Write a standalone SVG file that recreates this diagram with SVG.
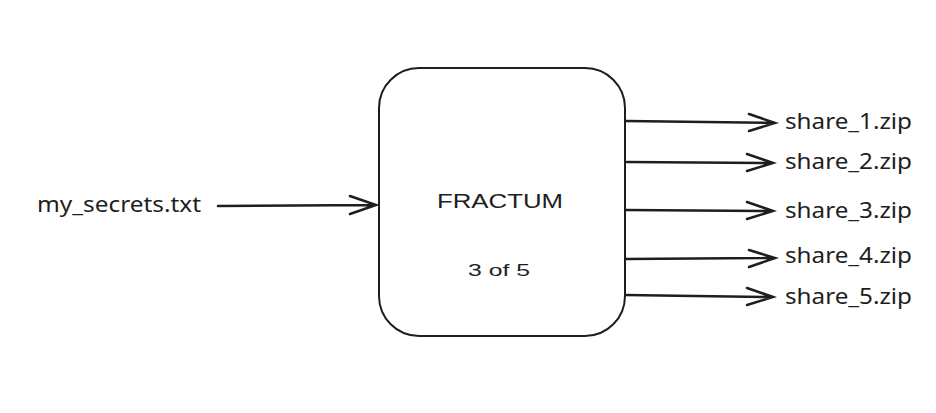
<svg xmlns="http://www.w3.org/2000/svg" width="936" height="413" viewBox="0 0 936 413">
<style>
.lbl{font-family:"Noto Sans","Liberation Sans",sans-serif;font-size:21px;fill:#1e1e1e}
.hand{font-family:"Liberation Sans",sans-serif;fill:#1e1e1e}
.c{stroke:#1e1e1e;stroke-width:2.5;fill:none;stroke-linecap:round}
</style>
<rect width="936" height="413" fill="#fff"/>
<g id="fractum">
<rect x="379" y="68" width="246" height="268" rx="40" fill="#fff" stroke="#1e1e1e" stroke-width="2"/>
<text class="hand" x="437" y="208" font-size="20" textLength="126" lengthAdjust="spacingAndGlyphs">FRACTUM</text>
<text class="hand" x="468" y="276" font-size="17" textLength="62" lengthAdjust="spacingAndGlyphs">3 of 5</text>
</g>
<g id="input"><text class="lbl" x="37" y="212" textLength="164" lengthAdjust="spacingAndGlyphs">my_secrets.txt</text></g>
<g id="share1"><text class="lbl" x="785" y="129" textLength="127" lengthAdjust="spacingAndGlyphs">share_1.zip</text></g>
<g id="share2"><text class="lbl" x="785" y="169" textLength="127" lengthAdjust="spacingAndGlyphs">share_2.zip</text></g>
<g id="share3"><text class="lbl" x="785" y="218" textLength="127" lengthAdjust="spacingAndGlyphs">share_3.zip</text></g>
<g id="share4"><text class="lbl" x="785" y="263" textLength="127" lengthAdjust="spacingAndGlyphs">share_4.zip</text></g>
<g id="share5"><text class="lbl" x="785" y="304" textLength="127" lengthAdjust="spacingAndGlyphs">share_5.zip</text></g>
<g id="connectors" class="c">
<path d="M218 206 L376 205 M350 196 L376 205 L350 214"/>
<path d="M626 121 L775 123 M749 114 L775 123 L749 131"/>
<path d="M627 162 L773 163 M747 154 L773 163 L747 171"/>
<path d="M626 210 L773 211 M747 202 L773 211 L747 219"/>
<path d="M626 259 L775 258 M749 250 L775 258 L749 267"/>
<path d="M626 295 L773 297 M747 288 L773 297 L747 305"/>
</g>
</svg>
